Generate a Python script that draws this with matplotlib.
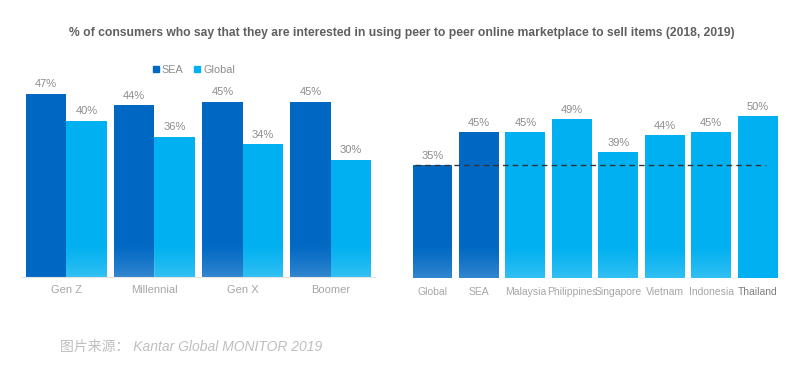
import numpy as np
import matplotlib.pyplot as plt
from matplotlib.patches import Patch

plt.rcParams['font.family'] = ['Liberation Sans', 'Noto Sans CJK SC', 'DejaVu Sans']

# left chart: by generation
generations = ['Gen Z', 'Millennial', 'Gen X', 'Boomer']
sea_vals = [47, 44, 45, 45]
global_vals = [40, 36, 34, 30]

# right chart: by market
markets = ['Global', 'SEA', 'Malaysia', 'Philippines', 'Singapore', 'Vietnam', 'Indonesia', 'Thailand']
market_vals = [35, 45, 45, 49, 39, 44, 45, 50]

dark = '#0068C3'
light = '#00B0F0'
val_col = '#8C8C8C'
lab_col = '#A6A6A6'

fig = plt.figure(figsize=(8.12, 3.69), dpi=100)

fig.text(402 / 812, (369 - 33) / 369,
         '% of consumers who say that they are interested in using peer to peer online marketplace to sell items (2018, 2019)',
         ha='center', va='center', fontsize=8.7, fontweight='bold', color='#5F5F5F')

# white fade used at the foot of the bars
grad = np.linspace(0, 0.2, 64) ** 1.3 / 0.2 ** 0.3
white = np.ones((64, 1, 4))
white[..., 3] = grad.reshape(-1, 1)


def fade(ax, bar, h):
    x0 = bar.get_x()
    w = bar.get_width()
    im = ax.imshow(white, extent=(x0, x0 + w, 0, h), aspect='auto', origin='upper',
                   interpolation='bilinear', zorder=3)
    im.set_clip_path(bar)


# left panel
ax1 = fig.add_axes([22 / 812, 92 / 369, 353 / 812, 195 / 369])
x = np.arange(len(generations))
w = 0.46
b1 = ax1.bar(x - w / 2, sea_vals, w, color=dark, zorder=2)
b2 = ax1.bar(x + w / 2, global_vals, w, color=light, zorder=2)
for i, b in enumerate(b1):
    if i > 0:
        fade(ax1, b, 9)
for b in b2:
    fade(ax1, b, 9)
for bars, vals in ((b1, sea_vals), (b2, global_vals)):
    for b, v in zip(bars, vals):
        ax1.text(b.get_x() + b.get_width() / 2, v + 1.2, f'{v}%', ha='center', va='bottom',
                 fontsize=8, color=val_col)
ax1.set_xlim(-0.5, 3.5)
ax1.set_ylim(0, 50)
ax1.set_xticks(x)
ax1.set_xticklabels(generations, fontsize=8, color=lab_col)
ax1.tick_params(length=0, pad=6)
ax1.set_yticks([])
for s in ('top', 'right', 'left'):
    ax1.spines[s].set_visible(False)
ax1.spines['bottom'].set_color('#E3E3E3')
ax1.spines['bottom'].set_linewidth(0.8)
leg = ax1.legend([Patch(color=dark), Patch(color=light)], ['SEA', 'Global'], loc='center',
                 bbox_to_anchor=((194 - 22) / 353, (369 - 70 - 92) / 195), ncol=2, frameon=False,
                 fontsize=7.8, handlelength=0.55, handleheight=0.55, handletextpad=0.3, columnspacing=1.0)
for t in leg.get_texts():
    t.set_color('#8C8C8C')

# right panel
ax2 = fig.add_axes([409.3 / 812, (369 - 278.3) / 369, 371.6 / 812, 162.5 / 369])
xm = np.arange(len(markets))
cols = [dark, dark] + [light] * (len(markets) - 2)
b3 = ax2.bar(xm, market_vals, 0.86, color=cols, zorder=2)
for i, b in enumerate(b3):
    if markets[i] != 'Thailand':
        fade(ax2, b, 10.5)
    ax2.text(b.get_x() + b.get_width() / 2, market_vals[i] + 1.2, f'{market_vals[i]}%', ha='center',
             va='bottom', fontsize=8, color=val_col)
ax2.hlines(market_vals[0], -0.38, 7.17, colors='#333333', linestyles=(0, (4, 3)), linewidth=1, zorder=4)
ax2.set_xlim(-0.5, 7.5)
ax2.set_ylim(0, 50)
ax2.set_xticks(xm)
ax2.set_xticklabels(markets, fontsize=7.5, color=lab_col)
ax2.get_xticklabels()[-1].set_color('#7F7F7F')
ax2.tick_params(length=0, pad=6)
ax2.set_yticks([])
for s in ax2.spines.values():
    s.set_visible(False)

fig.text(60 / 812, (369 - 347) / 369, '图片来源： Kantar Global MONITOR 2019', ha='left', va='center',
         fontsize=10, style='italic', color='#BFBFBF')

fig.savefig('out.png', dpi=100)
